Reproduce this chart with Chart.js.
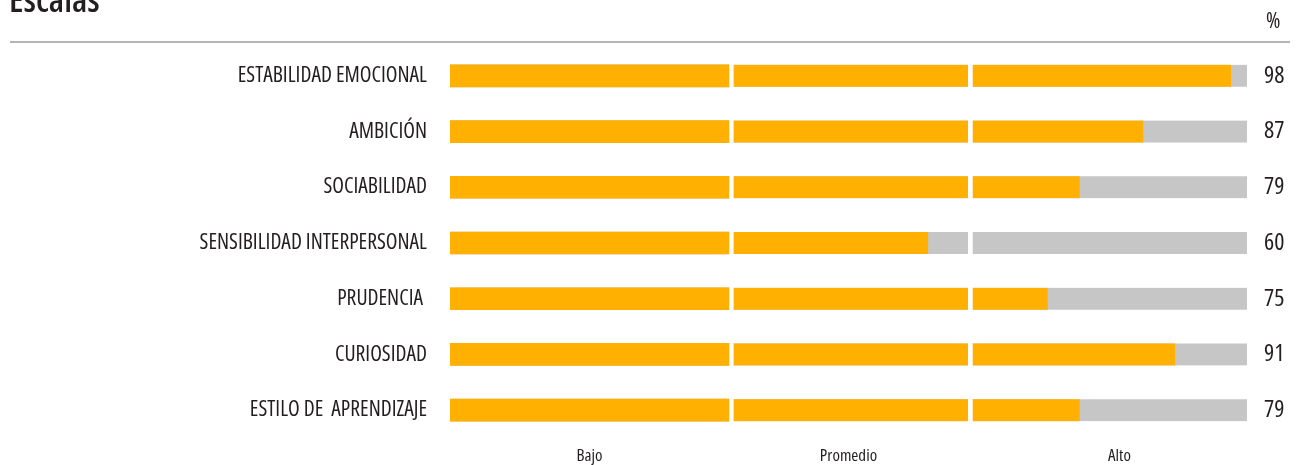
<!DOCTYPE html>
<html>
<head>
<meta charset="utf-8">
<script src="https://cdn.jsdelivr.net/npm/chart.js@4.4.1/dist/chart.umd.min.js"></script>
<style>
  html, body { margin: 0; padding: 0; background: #fff; overflow: hidden; }
  #wrap { position: relative; width: 1299px; height: 465px; }
  #c { position: absolute; left: 0; top: 0; }
  .title { position: absolute; left: 9px; top: -16px; font-family: "Open Sans", sans-serif; font-stretch: condensed; font-weight: 600; font-size: 35px; line-height: 30px; color: #231f20; white-space: nowrap; }
  .pct { position: absolute; left: 1266px; top: 7px; font-family: "Open Sans", sans-serif; font-stretch: condensed; font-weight: 500; font-size: 22px; line-height: 24px; color: #231f20; }
  .rule { position: absolute; left: 10px; top: 41px; width: 1280px; height: 2px; background: #b4b4b4; }
</style>
</head>
<body>
<div id="wrap">
  <canvas id="c" width="1299" height="465"></canvas>
  <div class="title">Escalas</div>
  <div class="pct">%</div>
  <div class="rule"></div>
</div>
<script>
const categories = ['ESTABILIDAD EMOCIONAL', 'AMBICIÓN', 'SOCIABILIDAD', 'SENSIBILIDAD INTERPERSONAL', 'PRUDENCIA ', 'CURIOSIDAD', 'ESTILO DE  APRENDIZAJE'];
const values = [98, 87, 79, 60, 75, 91, 79];
const zoneBounds = [0, 35, 65, 100];
const zoneLabels = ['Bajo', 'Promedio', 'Alto'];
const zoneLabelAt = [17.5, 50, 84];

const ORANGE = '#ffb000';
const GRAY = '#c6c6c6';
const TEXT = '#231f20';
const FONT = '"Open Sans", sans-serif';
// Chart.js writes "style weight size family"; the weight slot also carries the condensed width
const W = (w) => 'condensed ' + w;

const gapBorder = (ctx) => {
  const r = ctx.raw;
  if (!r) return 0;
  return { left: r[0] > 0 ? 5 : 0, right: 0, top: 0, bottom: 0 };
};

const datasets = [];
for (let k = 0; k < zoneLabels.length; k++) {
  const lo = zoneBounds[k], hi = zoneBounds[k + 1];
  datasets.push({
    label: zoneLabels[k] + ' (valor)',
    data: values.map(v => v > lo ? [lo, Math.min(v, hi)] : null),
    backgroundColor: ORANGE,
    order: 0
  });
}
for (let k = 0; k < zoneLabels.length; k++) {
  const lo = zoneBounds[k], hi = zoneBounds[k + 1];
  datasets.push({
    label: zoneLabels[k],
    data: values.map(() => [lo, hi]),
    backgroundColor: GRAY,
    order: 1
  });
}
datasets.forEach(d => {
  d.grouped = false;
  d.barThickness = 22;
  d.borderColor = '#ffffff';
  d.borderWidth = gapBorder;
  d.borderSkipped = false;
  d.yAxisID = 'y';
  d.xAxisID = 'x';
});

const fixSide = (w) => (s) => { s.width = w; s.paddingTop = 0; s.paddingBottom = 0; };

new Chart(document.getElementById('c'), {
  type: 'bar',
  data: { labels: categories, datasets },
  options: {
    indexAxis: 'y',
    responsive: false,
    animation: false,
    layout: { padding: { top: 48, left: 0, right: 0, bottom: 0 } },
    plugins: { legend: { display: false }, tooltip: { enabled: false }, title: { display: false } },
    scales: {
      x: {
        type: 'linear',
        position: 'bottom',
        min: 0,
        max: 100,
        grid: { display: false, drawTicks: false },
        border: { display: false },
        afterBuildTicks: (s) => { s.ticks = zoneLabelAt.map(v => ({ value: v })); },
        afterFit: (s) => { s.height = 27; s.paddingLeft = 0; s.paddingRight = 0; },
        ticks: {
          autoSkip: false,
          maxRotation: 0,
          padding: 8,
          color: TEXT,
          font: { family: FONT, size: 17, weight: W(500) },
          callback: (v, i) => zoneLabels[i]
        }
      },
      y: {
        type: 'category',
        position: 'left',
        offset: true,
        grid: { display: false, drawTicks: false },
        border: { display: false },
        afterFit: fixSide(450),
        ticks: {
          autoSkip: false,
          padding: 23,
          color: TEXT,
          font: { family: FONT, size: 21.5, weight: W(500) }
        }
      },
      y2: {
        type: 'category',
        position: 'right',
        labels: values.map(String),
        offset: true,
        grid: { display: false, drawTicks: false },
        border: { display: false },
        afterFit: fixSide(52),
        ticks: {
          autoSkip: false,
          padding: 17,
          color: TEXT,
          font: { family: FONT, size: 24, weight: W(500) }
        }
      }
    }
  }
});
</script>
</body>
</html>
